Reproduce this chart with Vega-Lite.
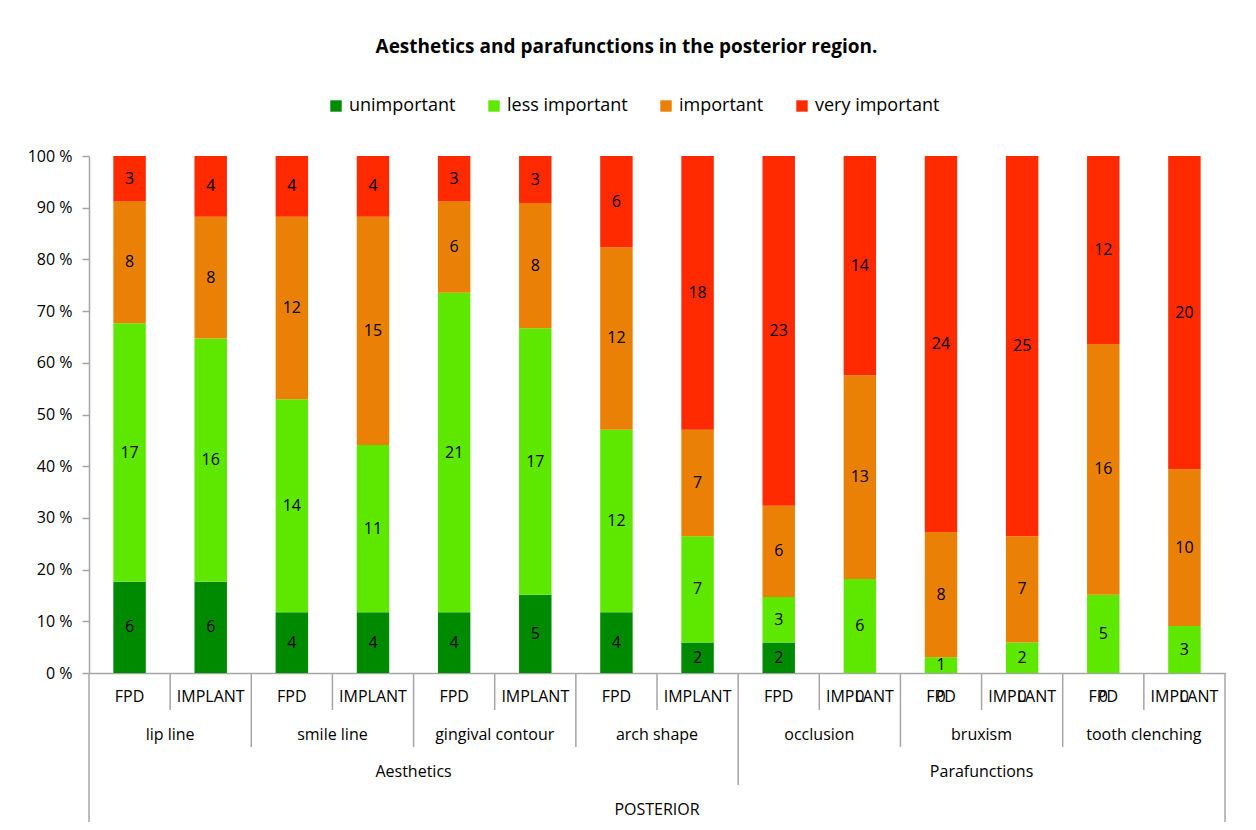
{
  "$schema": "https://vega.github.io/schema/vega-lite/v6.json",
  "background": "white",
  "padding": {"left": 27, "top": 38, "right": 31, "bottom": 8},
  "title": {"text": "Aesthetics and parafunctions in the posterior region.", "font": "Open Sans", "fontSize": 19, "fontWeight": "bold", "color": "black", "anchor": "middle", "offset": 40},
  "datasets": {
    "seg": [
      {"bar": "lip line FPD", "aspect": "lip line", "prosthesis": "FPD", "area": "Aesthetics", "region": "POSTERIOR", "level": "unimportant", "score": 1, "count": 6},
      {"bar": "lip line FPD", "aspect": "lip line", "prosthesis": "FPD", "area": "Aesthetics", "region": "POSTERIOR", "level": "less important", "score": 2, "count": 17},
      {"bar": "lip line FPD", "aspect": "lip line", "prosthesis": "FPD", "area": "Aesthetics", "region": "POSTERIOR", "level": "important", "score": 3, "count": 8},
      {"bar": "lip line FPD", "aspect": "lip line", "prosthesis": "FPD", "area": "Aesthetics", "region": "POSTERIOR", "level": "very important", "score": 4, "count": 3},
      {"bar": "lip line IMPLANT", "aspect": "lip line", "prosthesis": "IMPLANT", "area": "Aesthetics", "region": "POSTERIOR", "level": "unimportant", "score": 1, "count": 6},
      {"bar": "lip line IMPLANT", "aspect": "lip line", "prosthesis": "IMPLANT", "area": "Aesthetics", "region": "POSTERIOR", "level": "less important", "score": 2, "count": 16},
      {"bar": "lip line IMPLANT", "aspect": "lip line", "prosthesis": "IMPLANT", "area": "Aesthetics", "region": "POSTERIOR", "level": "important", "score": 3, "count": 8},
      {"bar": "lip line IMPLANT", "aspect": "lip line", "prosthesis": "IMPLANT", "area": "Aesthetics", "region": "POSTERIOR", "level": "very important", "score": 4, "count": 4},
      {"bar": "smile line FPD", "aspect": "smile line", "prosthesis": "FPD", "area": "Aesthetics", "region": "POSTERIOR", "level": "unimportant", "score": 1, "count": 4},
      {"bar": "smile line FPD", "aspect": "smile line", "prosthesis": "FPD", "area": "Aesthetics", "region": "POSTERIOR", "level": "less important", "score": 2, "count": 14},
      {"bar": "smile line FPD", "aspect": "smile line", "prosthesis": "FPD", "area": "Aesthetics", "region": "POSTERIOR", "level": "important", "score": 3, "count": 12},
      {"bar": "smile line FPD", "aspect": "smile line", "prosthesis": "FPD", "area": "Aesthetics", "region": "POSTERIOR", "level": "very important", "score": 4, "count": 4},
      {"bar": "smile line IMPLANT", "aspect": "smile line", "prosthesis": "IMPLANT", "area": "Aesthetics", "region": "POSTERIOR", "level": "unimportant", "score": 1, "count": 4},
      {"bar": "smile line IMPLANT", "aspect": "smile line", "prosthesis": "IMPLANT", "area": "Aesthetics", "region": "POSTERIOR", "level": "less important", "score": 2, "count": 11},
      {"bar": "smile line IMPLANT", "aspect": "smile line", "prosthesis": "IMPLANT", "area": "Aesthetics", "region": "POSTERIOR", "level": "important", "score": 3, "count": 15},
      {"bar": "smile line IMPLANT", "aspect": "smile line", "prosthesis": "IMPLANT", "area": "Aesthetics", "region": "POSTERIOR", "level": "very important", "score": 4, "count": 4},
      {"bar": "gingival contour FPD", "aspect": "gingival contour", "prosthesis": "FPD", "area": "Aesthetics", "region": "POSTERIOR", "level": "unimportant", "score": 1, "count": 4},
      {"bar": "gingival contour FPD", "aspect": "gingival contour", "prosthesis": "FPD", "area": "Aesthetics", "region": "POSTERIOR", "level": "less important", "score": 2, "count": 21},
      {"bar": "gingival contour FPD", "aspect": "gingival contour", "prosthesis": "FPD", "area": "Aesthetics", "region": "POSTERIOR", "level": "important", "score": 3, "count": 6},
      {"bar": "gingival contour FPD", "aspect": "gingival contour", "prosthesis": "FPD", "area": "Aesthetics", "region": "POSTERIOR", "level": "very important", "score": 4, "count": 3},
      {"bar": "gingival contour IMPLANT", "aspect": "gingival contour", "prosthesis": "IMPLANT", "area": "Aesthetics", "region": "POSTERIOR", "level": "unimportant", "score": 1, "count": 5},
      {"bar": "gingival contour IMPLANT", "aspect": "gingival contour", "prosthesis": "IMPLANT", "area": "Aesthetics", "region": "POSTERIOR", "level": "less important", "score": 2, "count": 17},
      {"bar": "gingival contour IMPLANT", "aspect": "gingival contour", "prosthesis": "IMPLANT", "area": "Aesthetics", "region": "POSTERIOR", "level": "important", "score": 3, "count": 8},
      {"bar": "gingival contour IMPLANT", "aspect": "gingival contour", "prosthesis": "IMPLANT", "area": "Aesthetics", "region": "POSTERIOR", "level": "very important", "score": 4, "count": 3},
      {"bar": "arch shape FPD", "aspect": "arch shape", "prosthesis": "FPD", "area": "Aesthetics", "region": "POSTERIOR", "level": "unimportant", "score": 1, "count": 4},
      {"bar": "arch shape FPD", "aspect": "arch shape", "prosthesis": "FPD", "area": "Aesthetics", "region": "POSTERIOR", "level": "less important", "score": 2, "count": 12},
      {"bar": "arch shape FPD", "aspect": "arch shape", "prosthesis": "FPD", "area": "Aesthetics", "region": "POSTERIOR", "level": "important", "score": 3, "count": 12},
      {"bar": "arch shape FPD", "aspect": "arch shape", "prosthesis": "FPD", "area": "Aesthetics", "region": "POSTERIOR", "level": "very important", "score": 4, "count": 6},
      {"bar": "arch shape IMPLANT", "aspect": "arch shape", "prosthesis": "IMPLANT", "area": "Aesthetics", "region": "POSTERIOR", "level": "unimportant", "score": 1, "count": 2},
      {"bar": "arch shape IMPLANT", "aspect": "arch shape", "prosthesis": "IMPLANT", "area": "Aesthetics", "region": "POSTERIOR", "level": "less important", "score": 2, "count": 7},
      {"bar": "arch shape IMPLANT", "aspect": "arch shape", "prosthesis": "IMPLANT", "area": "Aesthetics", "region": "POSTERIOR", "level": "important", "score": 3, "count": 7},
      {"bar": "arch shape IMPLANT", "aspect": "arch shape", "prosthesis": "IMPLANT", "area": "Aesthetics", "region": "POSTERIOR", "level": "very important", "score": 4, "count": 18},
      {"bar": "occlusion FPD", "aspect": "occlusion", "prosthesis": "FPD", "area": "Parafunctions", "region": "POSTERIOR", "level": "unimportant", "score": 1, "count": 2},
      {"bar": "occlusion FPD", "aspect": "occlusion", "prosthesis": "FPD", "area": "Parafunctions", "region": "POSTERIOR", "level": "less important", "score": 2, "count": 3},
      {"bar": "occlusion FPD", "aspect": "occlusion", "prosthesis": "FPD", "area": "Parafunctions", "region": "POSTERIOR", "level": "important", "score": 3, "count": 6},
      {"bar": "occlusion FPD", "aspect": "occlusion", "prosthesis": "FPD", "area": "Parafunctions", "region": "POSTERIOR", "level": "very important", "score": 4, "count": 23},
      {"bar": "occlusion IMPLANT", "aspect": "occlusion", "prosthesis": "IMPLANT", "area": "Parafunctions", "region": "POSTERIOR", "level": "unimportant", "score": 1, "count": 0},
      {"bar": "occlusion IMPLANT", "aspect": "occlusion", "prosthesis": "IMPLANT", "area": "Parafunctions", "region": "POSTERIOR", "level": "less important", "score": 2, "count": 6},
      {"bar": "occlusion IMPLANT", "aspect": "occlusion", "prosthesis": "IMPLANT", "area": "Parafunctions", "region": "POSTERIOR", "level": "important", "score": 3, "count": 13},
      {"bar": "occlusion IMPLANT", "aspect": "occlusion", "prosthesis": "IMPLANT", "area": "Parafunctions", "region": "POSTERIOR", "level": "very important", "score": 4, "count": 14},
      {"bar": "bruxism FPD", "aspect": "bruxism", "prosthesis": "FPD", "area": "Parafunctions", "region": "POSTERIOR", "level": "unimportant", "score": 1, "count": 0},
      {"bar": "bruxism FPD", "aspect": "bruxism", "prosthesis": "FPD", "area": "Parafunctions", "region": "POSTERIOR", "level": "less important", "score": 2, "count": 1},
      {"bar": "bruxism FPD", "aspect": "bruxism", "prosthesis": "FPD", "area": "Parafunctions", "region": "POSTERIOR", "level": "important", "score": 3, "count": 8},
      {"bar": "bruxism FPD", "aspect": "bruxism", "prosthesis": "FPD", "area": "Parafunctions", "region": "POSTERIOR", "level": "very important", "score": 4, "count": 24},
      {"bar": "bruxism IMPLANT", "aspect": "bruxism", "prosthesis": "IMPLANT", "area": "Parafunctions", "region": "POSTERIOR", "level": "unimportant", "score": 1, "count": 0},
      {"bar": "bruxism IMPLANT", "aspect": "bruxism", "prosthesis": "IMPLANT", "area": "Parafunctions", "region": "POSTERIOR", "level": "less important", "score": 2, "count": 2},
      {"bar": "bruxism IMPLANT", "aspect": "bruxism", "prosthesis": "IMPLANT", "area": "Parafunctions", "region": "POSTERIOR", "level": "important", "score": 3, "count": 7},
      {"bar": "bruxism IMPLANT", "aspect": "bruxism", "prosthesis": "IMPLANT", "area": "Parafunctions", "region": "POSTERIOR", "level": "very important", "score": 4, "count": 25},
      {"bar": "tooth clenching FPD", "aspect": "tooth clenching", "prosthesis": "FPD", "area": "Parafunctions", "region": "POSTERIOR", "level": "unimportant", "score": 1, "count": 0},
      {"bar": "tooth clenching FPD", "aspect": "tooth clenching", "prosthesis": "FPD", "area": "Parafunctions", "region": "POSTERIOR", "level": "less important", "score": 2, "count": 5},
      {"bar": "tooth clenching FPD", "aspect": "tooth clenching", "prosthesis": "FPD", "area": "Parafunctions", "region": "POSTERIOR", "level": "important", "score": 3, "count": 16},
      {"bar": "tooth clenching FPD", "aspect": "tooth clenching", "prosthesis": "FPD", "area": "Parafunctions", "region": "POSTERIOR", "level": "very important", "score": 4, "count": 12},
      {"bar": "tooth clenching IMPLANT", "aspect": "tooth clenching", "prosthesis": "IMPLANT", "area": "Parafunctions", "region": "POSTERIOR", "level": "unimportant", "score": 1, "count": 0},
      {"bar": "tooth clenching IMPLANT", "aspect": "tooth clenching", "prosthesis": "IMPLANT", "area": "Parafunctions", "region": "POSTERIOR", "level": "less important", "score": 2, "count": 3},
      {"bar": "tooth clenching IMPLANT", "aspect": "tooth clenching", "prosthesis": "IMPLANT", "area": "Parafunctions", "region": "POSTERIOR", "level": "important", "score": 3, "count": 10},
      {"bar": "tooth clenching IMPLANT", "aspect": "tooth clenching", "prosthesis": "IMPLANT", "area": "Parafunctions", "region": "POSTERIOR", "level": "very important", "score": 4, "count": 20}
    ]
  },
  "data": {"name": "seg"},
  "spacing": 0,
  "bounds": "flush",
  "resolve": {"scale": {"x": "shared"}},
  "vconcat": [
    {
      "width": 1136,
      "height": 517,
      "encoding": {
        "x": {"field": "bar", "type": "nominal", "sort": null,
          "scale": {"domain": ["lip line FPD", "lip line IMPLANT", "smile line FPD", "smile line IMPLANT", "gingival contour FPD", "gingival contour IMPLANT", "arch shape FPD", "arch shape IMPLANT", "occlusion FPD", "occlusion IMPLANT", "bruxism FPD", "bruxism IMPLANT", "tooth clenching FPD", "tooth clenching IMPLANT"], "paddingInner": 0.6, "paddingOuter": 0.3},
          "axis": {"labels": false, "ticks": false, "domain": true, "domainColor": "#a6a6a6", "domainWidth": 1.5, "title": null}}
      },
      "layer": [
        {
          "mark": {"type": "bar"},
          "encoding": {
            "y": {"field": "count", "type": "quantitative", "stack": "normalize",
              "scale": {"domain": [0, 1]},
              "axis": {"values": [0, 0.1, 0.2, 0.3, 0.4, 0.5, 0.6, 0.7, 0.8, 0.9, 1], "labelExpr": "format(datum.value * 100, 'd') + ' %'", "grid": false, "title": null, "domainColor": "#a6a6a6", "domainWidth": 1.5, "tickColor": "#a6a6a6", "tickWidth": 1.5, "tickSize": 7, "labelPadding": 10, "labelFont": "Open Sans", "labelFontSize": 16, "labelColor": "black"}},
            "order": {"field": "score", "type": "quantitative", "sort": "ascending"},
            "color": {"field": "level", "type": "nominal",
              "sort": ["unimportant", "less important", "important", "very important"],
              "scale": {"domain": ["unimportant", "less important", "important", "very important"], "range": ["#008a00", "#5ee800", "#ea8005", "#ff2a00"]},
              "legend": {"orient": "none", "direction": "horizontal", "legendX": 238, "legendY": -59, "title": null, "symbolType": "square", "symbolSize": 130, "symbolStrokeWidth": 0, "labelFont": "Open Sans", "labelFontSize": 18, "labelColor": "black", "columnPadding": 29, "labelOffset": 4}}
          }
        },
        {
          "transform": [{"filter": "datum.count > 0"}],
          "mark": {"type": "text", "font": "Open Sans", "fontSize": 16, "baseline": "middle", "color": "black"},
          "encoding": {
            "y": {"field": "count", "type": "quantitative", "stack": "normalize", "bandPosition": 0.5},
            "order": {"field": "score", "type": "quantitative", "sort": "ascending"},
            "detail": {"field": "level", "type": "nominal"},
            "text": {"field": "count", "type": "quantitative"}
          }
        },
        {
          "transform": [
            {"stack": "count", "groupby": ["bar"], "sort": [{"field": "score", "order": "ascending"}], "offset": "normalize", "as": ["share0", "share1"]},
            {"filter": "datum.count == 0"}
          ],
          "mark": {"type": "text", "font": "Open Sans", "fontSize": 16, "baseline": "middle", "color": "black", "dy": 24},
          "encoding": {
            "y": {"field": "share0", "type": "quantitative"},
            "text": {"field": "count", "type": "quantitative"}
          }
        }
      ]
    },
    {
      "width": 1136,
      "height": 37,
      "transform": [{"filter": "datum.level == 'unimportant'"}],
      "encoding": {"x": {"field": "bar", "type": "nominal", "sort": null, "axis": null}},
      "layer": [
        {"mark": {"type": "rule", "xOffset": -40.57, "color": "#a6a6a6", "strokeWidth": 1.5}, "encoding": {}},
        {"transform": [{"filter": "datum.bar == 'tooth clenching IMPLANT'"}], "mark": {"type": "rule", "xOffset": 40.57, "color": "#a6a6a6", "strokeWidth": 1.5}, "encoding": {}},
        {"mark": {"type": "text", "font": "Open Sans", "fontSize": 16, "color": "black", "baseline": "middle", "dy": 5}, "encoding": {"text": {"field": "prosthesis"}}}
      ]
    },
    {
      "width": 1136,
      "height": 37,
      "transform": [{"filter": "datum.level == 'unimportant'"}],
      "encoding": {"x": {"field": "bar", "type": "nominal", "sort": null, "axis": null}},
      "layer": [
        {"transform": [{"filter": "datum.prosthesis == 'FPD'"}], "mark": {"type": "rule", "xOffset": -40.57, "color": "#a6a6a6", "strokeWidth": 1.5}, "encoding": {}},
        {"transform": [{"filter": "datum.bar == 'tooth clenching IMPLANT'"}], "mark": {"type": "rule", "xOffset": 40.57, "color": "#a6a6a6", "strokeWidth": 1.5}, "encoding": {}},
        {"transform": [{"filter": "datum.prosthesis == 'FPD'"}], "mark": {"type": "text", "font": "Open Sans", "fontSize": 16, "color": "black", "baseline": "middle", "dy": 6, "xOffset": 40.57}, "encoding": {"text": {"field": "aspect"}}}
      ]
    },
    {
      "width": 1136,
      "height": 38,
      "transform": [{"filter": "datum.level == 'unimportant'"}],
      "encoding": {"x": {"field": "bar", "type": "nominal", "sort": null, "axis": null}},
      "layer": [
        {"transform": [{"filter": {"field": "bar", "oneOf": ["lip line FPD", "occlusion FPD"]}}], "mark": {"type": "rule", "xOffset": -40.57, "color": "#a6a6a6", "strokeWidth": 1.5}, "encoding": {}},
        {"transform": [{"filter": "datum.bar == 'tooth clenching IMPLANT'"}], "mark": {"type": "rule", "xOffset": 40.57, "color": "#a6a6a6", "strokeWidth": 1.5}, "encoding": {}},
        {"transform": [{"filter": {"field": "bar", "oneOf": ["smile line IMPLANT", "bruxism FPD"]}}], "mark": {"type": "text", "font": "Open Sans", "fontSize": 16, "color": "black", "baseline": "middle", "dy": 6, "xOffset": 40.57}, "encoding": {"text": {"field": "area"}}}
      ]
    },
    {
      "width": 1136,
      "height": 37,
      "transform": [{"filter": "datum.level == 'unimportant'"}],
      "encoding": {"x": {"field": "bar", "type": "nominal", "sort": null, "axis": null}},
      "layer": [
        {"transform": [{"filter": "datum.bar == 'lip line FPD'"}], "mark": {"type": "rule", "xOffset": -40.57, "color": "#a6a6a6", "strokeWidth": 1.5}, "encoding": {}},
        {"transform": [{"filter": "datum.bar == 'tooth clenching IMPLANT'"}], "mark": {"type": "rule", "xOffset": 40.57, "color": "#a6a6a6", "strokeWidth": 1.5}, "encoding": {}},
        {"transform": [{"filter": "datum.bar == 'arch shape FPD'"}], "mark": {"type": "text", "font": "Open Sans", "fontSize": 16, "color": "black", "baseline": "middle", "dy": 6, "xOffset": 40.57}, "encoding": {"text": {"field": "region"}}}
      ]
    }
  ],
  "config": {
    "view": {"stroke": null},
    "font": "Open Sans"
  }
}
